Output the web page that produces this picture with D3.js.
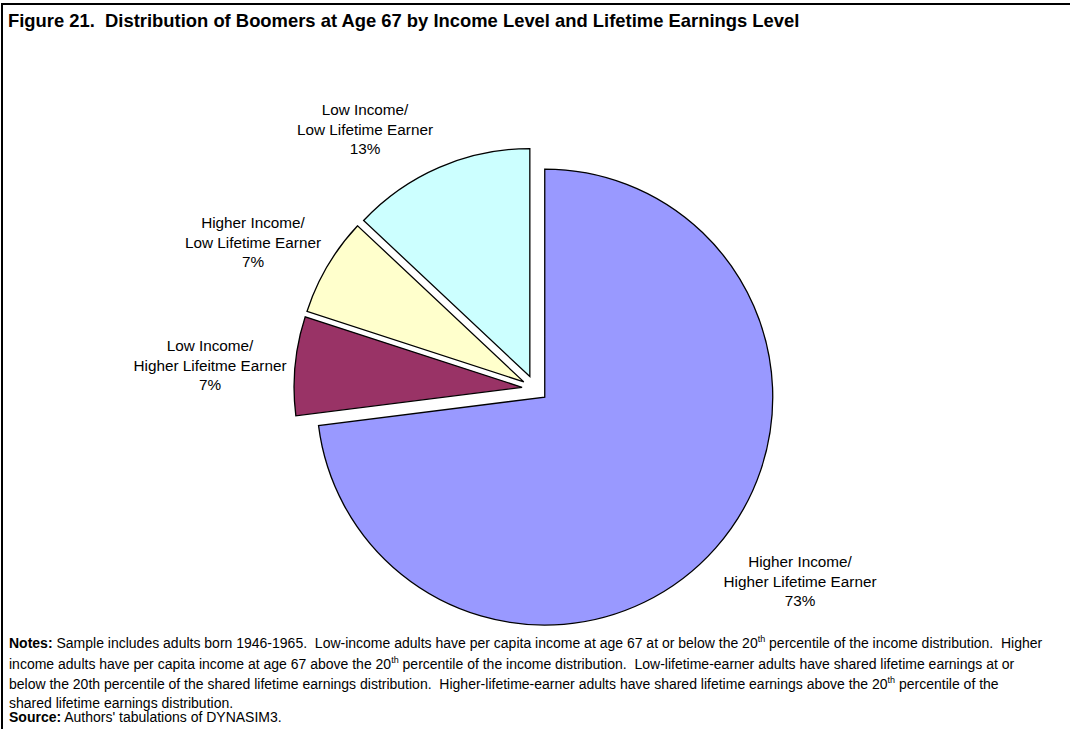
<!DOCTYPE html>
<html>
<head>
<meta charset="utf-8">
<script src="https://cdn.jsdelivr.net/npm/d3@7"></script>
<style>
    body { margin: 0; background: #fff; }
    svg { display: block; font-family: "Liberation Sans", Arial, sans-serif; }
    text { white-space: pre; }
</style>
</head>
<body>
<svg id="chart" width="1070" height="729"></svg>
<script>
// data
const categories = [
    ["Higher Income/", "Higher Lifetime Earner"],
    ["Low Income/", "Higher Lifeitme Earner"],
    ["Higher Income/", "Low Lifetime Earner"],
    ["Low Income/", "Low Lifetime Earner"]
];
const shares = [73, 7, 7, 13];
const colors = ["#9999ff", "#993366", "#ffffcc", "#ccffff"];

const title = "Figure 21.  Distribution of Boomers at Age 67 by Income Level and Lifetime Earnings Level";

// each note line is a list of [text, style] pieces
const noteLines = [
    [["Notes:", "b"], [" Sample includes adults born 1946-1965.  Low-income adults have per capita income at age 67 at or below the 20", ""], ["th", "sup"], [" percentile of the income distribution.  Higher", ""]],
    [["income adults have per capita income at age 67 above the 20", ""], ["th", "sup"], [" percentile of the income distribution.  Low-lifetime-earner adults have shared lifetime earnings at or", ""]],
    [["below the 20th percentile of the shared lifetime earnings distribution.  Higher-lifetime-earner adults have shared lifetime earnings above the 20", ""], ["th", "sup"], [" percentile of the", ""]],
    [["shared lifetime earnings distribution.", ""]],
    [["Source:", "b"], [" Authors' tabulations of DYNASIM3.", ""]]
];

// layout (not data)
const labelAnchors = [[800, 567], [210, 351], [253, 228], [365, 115]];
const noteBaselines = [648, 669, 689, 708, 722];

/** Class for the exploded pie figure */
class PieFigure {
    constructor() {
        this.svg = d3.select("#chart");
        this.cx = 535;
        this.cy = 388.5;
        this.radius = 228;
        this.explode = 13;
    }

    drawFrame() {
        this.svg.append("line")
            .attr("x1", 2).attr("y1", 4)
            .attr("x2", 1070).attr("y2", 4)
            .attr("stroke", "#000").attr("stroke-width", 2);
        this.svg.append("line")
            .attr("x1", 2).attr("y1", 3)
            .attr("x2", 2).attr("y2", 729)
            .attr("stroke", "#000").attr("stroke-width", 2);

        this.svg.append("text")
            .attr("x", 8).attr("y", 27)
            .attr("font-size", 18.4).attr("font-weight", "bold")
            .text(title);
    }

    drawPie() {
        let pie = d3.pie().sort(null).value(d => d);
        let arcs = pie(shares);
        let arc = d3.arc().innerRadius(0).outerRadius(this.radius);

        let g = this.svg.append("g")
            .attr("transform", `translate(${this.cx},${this.cy})`);

        g.selectAll("path")
            .data(arcs)
            .enter()
            .append("path")
            .attr("transform", (d) => {
                let mid = (d.startAngle + d.endAngle) / 2;
                return `translate(${this.explode * Math.sin(mid)},${-this.explode * Math.cos(mid)})`;
            })
            .attr("d", arc)
            .attr("fill", (d, i) => colors[i])
            .attr("stroke", "#000")
            .attr("stroke-width", 1.3)
            .attr("stroke-linejoin", "miter");

        // slice labels
        let labels = this.svg.append("g")
            .selectAll("text")
            .data(arcs)
            .enter()
            .append("text")
            .attr("text-anchor", "middle")
            .attr("font-size", 15.3)
            .attr("fill", "#000");

        labels.each(function (d, i) {
            let t = d3.select(this);
            let lines = categories[i].concat([d.data + "%"]);
            lines.forEach((s, j) => {
                t.append("tspan")
                    .attr("x", labelAnchors[i][0])
                    .attr("y", labelAnchors[i][1] + j * 19.5)
                    .text(s);
            });
        });
    }

    drawNotes() {
        let notes = this.svg.append("g").attr("font-size", 14);
        noteLines.forEach((line, i) => {
            let t = notes.append("text")
                .attr("x", 9)
                .attr("y", noteBaselines[i]);
            line.forEach((piece, k) => {
                let ts = t.append("tspan").text(piece[0]);
                if (piece[1] === "b") ts.attr("font-weight", "bold");
                if (piece[1] === "sup") {
                    ts.attr("font-size", 9).attr("dy", -6);
                } else if (k > 0 && line[k - 1][1] === "sup") {
                    ts.attr("dy", 6);
                }
            });
        });
    }
}

let fig = new PieFigure();
fig.drawFrame();
fig.drawPie();
fig.drawNotes();
</script>
</body>
</html>
